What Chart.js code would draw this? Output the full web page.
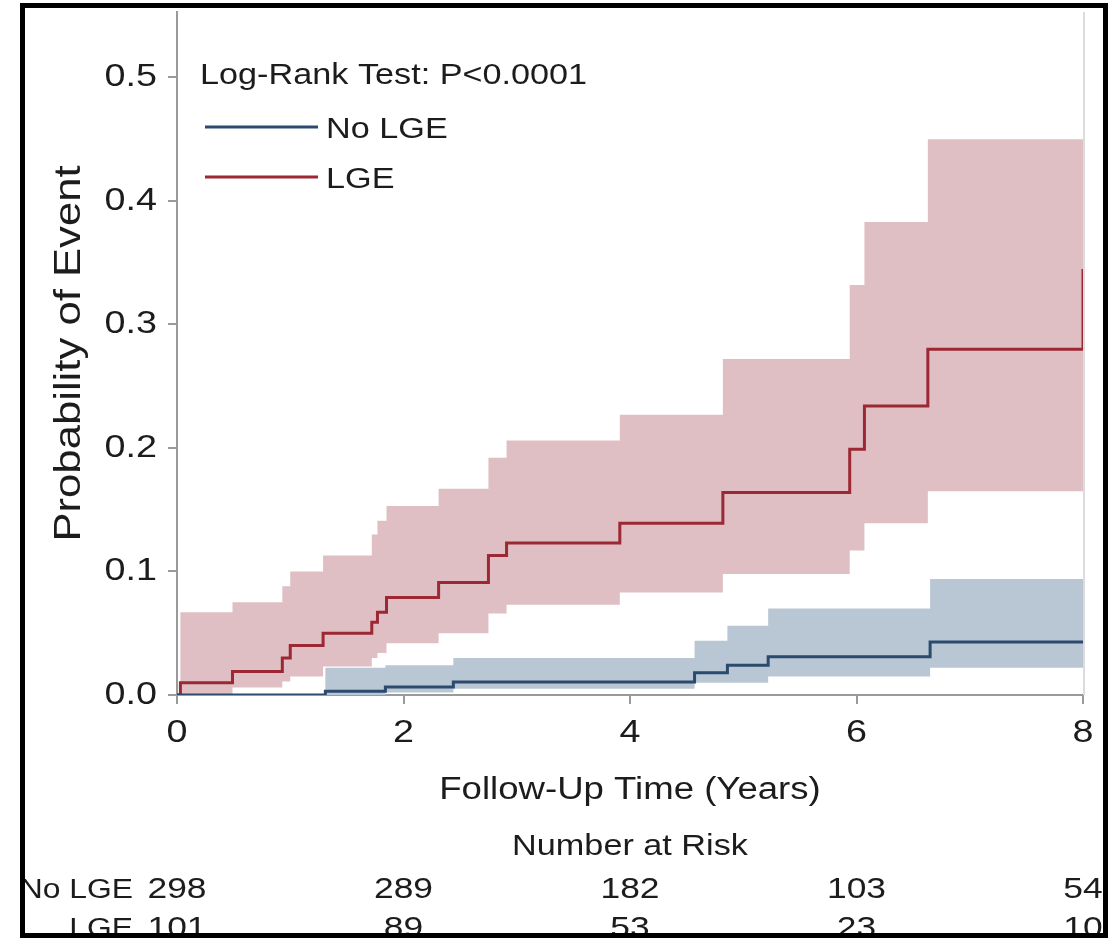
<!DOCTYPE html>
<html>
<head>
<meta charset="utf-8">
<title>Probability of Event by LGE</title>
<script src="https://cdn.jsdelivr.net/npm/chart.js@4.4.1/dist/chart.umd.min.js"></script>
<style>
  body { margin: 0; background: #fff; }
  canvas { display: block; }
</style>
</head>
<body>
<canvas id="kmChart" width="1116" height="940"></canvas>
<script>
// step times (years) and cumulative probability
const lgeTimes   = [0, 0.03, 0.49, 0.93, 1.00, 1.29, 1.72, 1.77, 1.85, 2.31, 2.75, 2.91, 3.91, 4.82, 5.94, 6.07, 6.63, 8.00, 8.00];
const lgeEst     = [0, 0.010, 0.019, 0.030, 0.040, 0.050, 0.059, 0.067, 0.079, 0.091, 0.113, 0.123, 0.139, 0.164, 0.199, 0.234, 0.280, 0.280, 0.345];
const lgeUpper   = [0, 0.067, 0.075, 0.088, 0.100, 0.113, 0.130, 0.141, 0.153, 0.167, 0.192, 0.206, 0.227, 0.272, 0.332, 0.383, 0.450, 0.450, 0.450];
const lgeLower   = [0, 0.000, 0.006, 0.011, 0.015, 0.023, 0.030, 0.034, 0.042, 0.050, 0.066, 0.073, 0.083, 0.098, 0.117, 0.139, 0.165, 0.165, 0.165];

const noLgeTimes = [0, 1.31, 1.84, 2.44, 4.57, 4.86, 5.22, 6.65, 8.00];
const noLgeEst   = [0, 0.003, 0.0065, 0.0105, 0.018, 0.024, 0.031, 0.043, 0.043];
const noLgeUpper = [0, 0.022, 0.024, 0.030, 0.044, 0.056, 0.070, 0.094, 0.094];
const noLgeLower = [0, 0.000, 0.002, 0.005, 0.010, 0.010, 0.015, 0.022, 0.022];

const xTicks = [0, 2, 4, 6, 8];
const yTicks = [0, 0.1, 0.2, 0.3, 0.4, 0.5];

// number at risk table under the axis
const riskTimes = [0, 2, 4, 6, 8];
const riskNoLge = [298, 289, 182, 103, 54];
const riskLge   = [101, 89, 53, 23, 10];

const groupNames = ['No LGE', 'LGE'];
const testLabel = 'Log-Rank Test: P<0.0001';

const blueLine = '#2c4a6e';
const blueBand = '#b9c7d4';
const redLine  = '#9b2832';
const redBand  = '#dfbfc4';
const axisGrey = '#9a9a9a';
const textColor = '#1c1c1c';
const fontFamily = '"Liberation Sans", Arial, sans-serif';

Chart.defaults.font.family = fontFamily;

const canvas = document.getElementById('kmChart');
const ctx = canvas.getContext('2d');

// the lettering in the figure is wide, so stretch every label along its baseline
const TEXT_STRETCH = 1.18;
const plainFillText = ctx.fillText;
ctx.fillText = function (text, x, y) {
  this.save();
  this.translate(x, y);
  this.scale(TEXT_STRETCH, 1);
  plainFillText.call(this, text, 0, 0);
  this.restore();
};

const toPoints = (times, vals) => times.map((t, i) => ({ x: t, y: vals[i] }));
const lineStyle = { stepped: 'before', pointRadius: 0, borderWidth: 3, fill: false };
const bandStyle = { stepped: 'before', pointRadius: 0, borderWidth: 0, borderColor: 'rgba(0,0,0,0)' };

const kmExtras = {
  id: 'kmExtras',
  beforeDatasetsDraw(chart) {
    const { ctx, chartArea } = chart;
    // faint right edge of the plot frame
    ctx.save();
    ctx.strokeStyle = '#dcdcdc';
    ctx.lineWidth = 2;
    ctx.beginPath();
    ctx.moveTo(chartArea.right + 1, chartArea.top);
    ctx.lineTo(chartArea.right + 1, chartArea.bottom);
    ctx.stroke();
    ctx.restore();
  },
  afterDraw(chart) {
    const { ctx, chartArea, scales } = chart;
    const x = scales.x;
    ctx.save();
    ctx.fillStyle = textColor;
    ctx.textBaseline = 'alphabetic';

    // test result and legend
    ctx.font = '29px ' + fontFamily;
    ctx.textAlign = 'left';
    ctx.fillText(testLabel, 200, 84);

    const legendColors = [chart.data.datasets[0].borderColor, chart.data.datasets[1].borderColor];
    const legendY = [127, 177];
    groupNames.forEach((name, i) => {
      ctx.strokeStyle = legendColors[i];
      ctx.lineWidth = 3;
      ctx.beginPath();
      ctx.moveTo(205, legendY[i]);
      ctx.lineTo(318, legendY[i]);
      ctx.stroke();
      ctx.fillText(name, 326, legendY[i] + 11);
    });

    // number at risk
    ctx.textAlign = 'center';
    ctx.fillText('Number at Risk', (chartArea.left + chartArea.right) / 2, 855);
    const rows = [riskNoLge, riskLge];
    const rowY = [898, 937];
    rows.forEach((counts, r) => {
      ctx.font = '27px ' + fontFamily;
      ctx.textAlign = 'right';
      ctx.fillText(groupNames[r], 133, rowY[r]);
      ctx.font = '30px ' + fontFamily;
      ctx.textAlign = 'center';
      counts.forEach((n, i) => ctx.fillText(String(n), x.getPixelForValue(riskTimes[i]), rowY[r]));
    });

    // black frame around the figure, cropping what spills past it
    ctx.fillStyle = '#fff';
    ctx.fillRect(0, 0, 20, 940);
    ctx.fillRect(1108, 0, 8, 940);
    ctx.fillRect(0, 0, 1116, 3);
    ctx.fillRect(0, 938, 1116, 2);
    ctx.strokeStyle = '#000';
    ctx.lineWidth = 5;
    ctx.strokeRect(22.5, 5.5, 1083, 930);
    ctx.restore();
  }
};

new Chart(ctx, {
  type: 'line',
  data: {
    datasets: [
      { label: 'No LGE', data: toPoints(noLgeTimes, noLgeEst), borderColor: blueLine, ...lineStyle },
      { label: 'LGE', data: toPoints(lgeTimes, lgeEst), borderColor: redLine, ...lineStyle },
      { label: 'No LGE upper', data: toPoints(noLgeTimes, noLgeUpper), backgroundColor: blueBand, fill: '+1', ...bandStyle },
      { label: 'No LGE lower', data: toPoints(noLgeTimes, noLgeLower), fill: false, ...bandStyle },
      { label: 'LGE upper', data: toPoints(lgeTimes, lgeUpper), backgroundColor: redBand, fill: '+1', ...bandStyle },
      { label: 'LGE lower', data: toPoints(lgeTimes, lgeLower), fill: false, ...bandStyle }
    ]
  },
  options: {
    responsive: false,
    animation: false,
    layout: { padding: { top: 12, right: 33, bottom: 0, left: 0 } },
    plugins: {
      legend: { display: false },
      tooltip: { enabled: false },
      filler: { drawTime: 'beforeDatasetsDraw' }
    },
    scales: {
      x: {
        type: 'linear',
        min: 0,
        max: 8,
        afterBuildTicks: s => { s.ticks = xTicks.map(v => ({ value: v })); },
        afterFit: s => { s.height = 245; s.paddingLeft = 0; s.paddingRight = 0; },
        grid: { drawOnChartArea: false, drawTicks: true, tickLength: 9, color: axisGrey, lineWidth: 2 },
        border: { color: axisGrey, width: 2 },
        ticks: { padding: 10, color: textColor, font: { size: 32 }, maxRotation: 0, autoSkip: false },
        title: {
          display: true,
          text: 'Follow-Up Time (Years)',
          color: textColor,
          font: { size: 31 },
          padding: { top: 0, bottom: 131 }
        }
      },
      y: {
        type: 'linear',
        min: 0,
        max: 0.553,
        afterBuildTicks: s => { s.ticks = yTicks.map(v => ({ value: v })); },
        afterFit: s => { s.width = 177; s.paddingTop = 0; s.paddingBottom = 0; },
        grid: { drawOnChartArea: false, drawTicks: true, tickLength: 9, color: axisGrey, lineWidth: 2 },
        border: { color: axisGrey, width: 2 },
        ticks: { padding: 11, color: textColor, font: { size: 32 }, callback: v => v.toFixed(1) },
        title: {
          display: true,
          text: 'Probability of Event',
          color: textColor,
          font: { size: 37 },
          padding: { top: 48, bottom: 0 }
        }
      }
    }
  },
  plugins: [kmExtras]
});
</script>
</body>
</html>
